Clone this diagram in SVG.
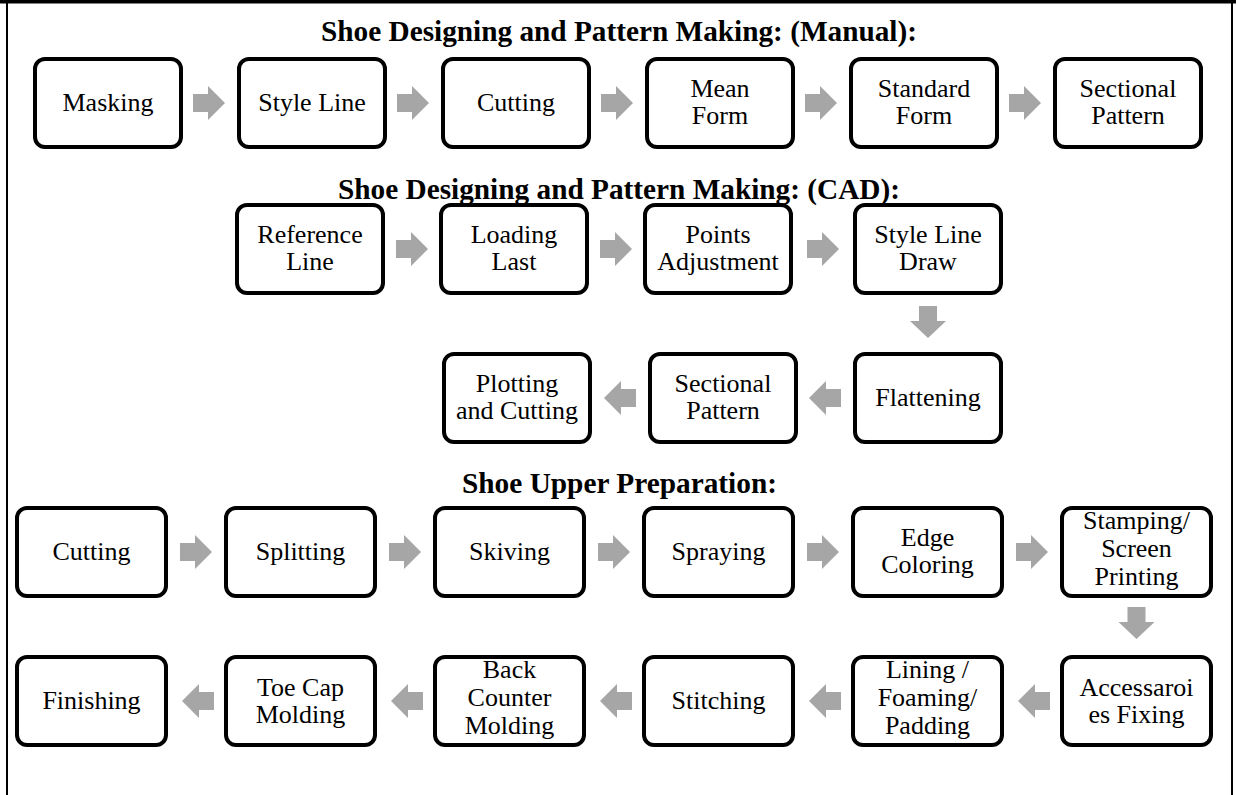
<svg xmlns="http://www.w3.org/2000/svg" width="1236" height="795" viewBox="0 0 1236 795">
<defs>
<style>
.box{fill:#fff;stroke:#000;stroke-width:4}
.t{font-family:"Liberation Serif","Times New Roman",serif;font-size:26px;fill:#000;text-anchor:middle}
.title{font-family:"Liberation Serif","Times New Roman",serif;font-size:29px;font-weight:bold;fill:#000;text-anchor:middle}
.arr{fill:#A6A6A6}
</style>
<path id="ar" d="M0,-9 H15 V-17 L32,0 L15,17 V9 H0 Z"/>
<path id="al" d="M32,-9 H17 V-17 L0,0 L17,17 V9 H32 Z"/>
<path id="ad" d="M-9,0 V15 H-18 L0,32 L18,15 H9 V0 Z"/>
</defs>
<rect x="0" y="0" width="1236" height="795" fill="#fff"/>
<rect x="0" y="0" width="1236" height="3.5" fill="#000"/>
<rect x="6" y="0" width="2" height="795" fill="#000"/>
<rect x="1231" y="0" width="2" height="795" fill="#000"/>

<text class="title" x="619" y="41" textLength="596" lengthAdjust="spacingAndGlyphs">Shoe Designing and Pattern Making: (Manual):</text>
<text class="title" x="619" y="199" textLength="562" lengthAdjust="spacingAndGlyphs">Shoe Designing and Pattern Making: (CAD):</text>
<text class="title" x="619.5" y="493" textLength="315" lengthAdjust="spacingAndGlyphs">Shoe Upper Preparation:</text>

<g id="connectors" class="arr">
<use href="#ar" x="193" y="103"/>
<use href="#ar" x="397" y="103"/>
<use href="#ar" x="601" y="103"/>
<use href="#ar" x="805" y="103"/>
<use href="#ar" x="1009" y="103"/>
<use href="#ar" x="396" y="249"/>
<use href="#ar" x="600" y="249"/>
<use href="#ar" x="807" y="249"/>
<use href="#ad" x="928" y="306"/>
<use href="#al" x="809" y="398"/>
<use href="#al" x="604" y="398"/>
<use href="#ar" x="180" y="552"/>
<use href="#ar" x="389" y="552"/>
<use href="#ar" x="598" y="552"/>
<use href="#ar" x="807" y="552"/>
<use href="#ar" x="1016" y="552"/>
<use href="#ad" x="1136.5" y="607"/>
<use href="#al" x="1018" y="701"/>
<use href="#al" x="809" y="701"/>
<use href="#al" x="600" y="701"/>
<use href="#al" x="391" y="701"/>
<use href="#al" x="182" y="701"/>
</g>

<g id="n-masking"><rect class="box" x="35" y="59" width="146" height="88" rx="10"/><text class="t" x="108" y="111">Masking</text></g>
<g id="n-styleline"><rect class="box" x="239" y="59" width="146" height="88" rx="10"/><text class="t" x="312" y="111">Style Line</text></g>
<g id="n-cutting1"><rect class="box" x="443" y="59" width="146" height="88" rx="10"/><text class="t" x="516" y="111">Cutting</text></g>
<g id="n-meanform"><rect class="box" x="647" y="59" width="146" height="88" rx="10"/><text class="t" x="720" y="97">Mean</text><text class="t" x="720" y="124">Form</text></g>
<g id="n-standardform"><rect class="box" x="851" y="59" width="146" height="88" rx="10"/><text class="t" x="924" y="97">Standard</text><text class="t" x="924" y="124">Form</text></g>
<g id="n-sectional1"><rect class="box" x="1055" y="59" width="146" height="88" rx="10"/><text class="t" x="1128" y="97">Sectional</text><text class="t" x="1128" y="124">Pattern</text></g>

<g id="n-reference"><rect class="box" x="237" y="205" width="146" height="88" rx="10"/><text class="t" x="310" y="243">Reference</text><text class="t" x="310" y="270">Line</text></g>
<g id="n-loading"><rect class="box" x="441" y="205" width="146" height="88" rx="10"/><text class="t" x="514" y="243">Loading</text><text class="t" x="514" y="270">Last</text></g>
<g id="n-points"><rect class="box" x="645" y="205" width="146" height="88" rx="10"/><text class="t" x="718" y="243">Points</text><text class="t" x="718" y="270">Adjustment</text></g>
<g id="n-styledraw"><rect class="box" x="855" y="205" width="146" height="88" rx="10"/><text class="t" x="928" y="243">Style Line</text><text class="t" x="928" y="270">Draw</text></g>

<g id="n-flattening"><rect class="box" x="855" y="354" width="146" height="88" rx="10"/><text class="t" x="928" y="406">Flattening</text></g>
<g id="n-sectional2"><rect class="box" x="650" y="354" width="146" height="88" rx="10"/><text class="t" x="723" y="392">Sectional</text><text class="t" x="723" y="419">Pattern</text></g>
<g id="n-plotting"><rect class="box" x="444" y="354" width="146" height="88" rx="10"/><text class="t" x="517" y="392">Plotting</text><text class="t" x="517" y="419">and Cutting</text></g>

<g id="n-cutting2"><rect class="box" x="17" y="508" width="149" height="88" rx="10"/><text class="t" x="91.5" y="560">Cutting</text></g>
<g id="n-splitting"><rect class="box" x="226" y="508" width="149" height="88" rx="10"/><text class="t" x="300.5" y="560">Splitting</text></g>
<g id="n-skiving"><rect class="box" x="435" y="508" width="149" height="88" rx="10"/><text class="t" x="509.5" y="560">Skiving</text></g>
<g id="n-spraying"><rect class="box" x="644" y="508" width="149" height="88" rx="10"/><text class="t" x="718.5" y="560">Spraying</text></g>
<g id="n-edge"><rect class="box" x="853" y="508" width="149" height="88" rx="10"/><text class="t" x="927.5" y="546">Edge</text><text class="t" x="927.5" y="573">Coloring</text></g>
<g id="n-stamping"><rect class="box" x="1062" y="508" width="149" height="88" rx="10"/><text class="t" x="1136.5" y="529">Stamping/</text><text class="t" x="1136.5" y="557">Screen</text><text class="t" x="1136.5" y="585">Printing</text></g>

<g id="n-accessaroies"><rect class="box" x="1062" y="657" width="149" height="88" rx="10"/><text class="t" x="1136.5" y="696">Accessaroi</text><text class="t" x="1136.5" y="723">es Fixing</text></g>
<g id="n-lining"><rect class="box" x="853" y="657" width="149" height="88" rx="10"/><text class="t" x="927.5" y="678">Lining /</text><text class="t" x="927.5" y="706">Foaming/</text><text class="t" x="927.5" y="734">Padding</text></g>
<g id="n-stitching"><rect class="box" x="644" y="657" width="149" height="88" rx="10"/><text class="t" x="718.5" y="709">Stitching</text></g>
<g id="n-backcounter"><rect class="box" x="435" y="657" width="149" height="88" rx="10"/><text class="t" x="509.5" y="678">Back</text><text class="t" x="509.5" y="706">Counter</text><text class="t" x="509.5" y="734">Molding</text></g>
<g id="n-toecap"><rect class="box" x="226" y="657" width="149" height="88" rx="10"/><text class="t" x="300.5" y="696">Toe Cap</text><text class="t" x="300.5" y="723">Molding</text></g>
<g id="n-finishing"><rect class="box" x="17" y="657" width="149" height="88" rx="10"/><text class="t" x="91.5" y="709">Finishing</text></g>
</svg>
